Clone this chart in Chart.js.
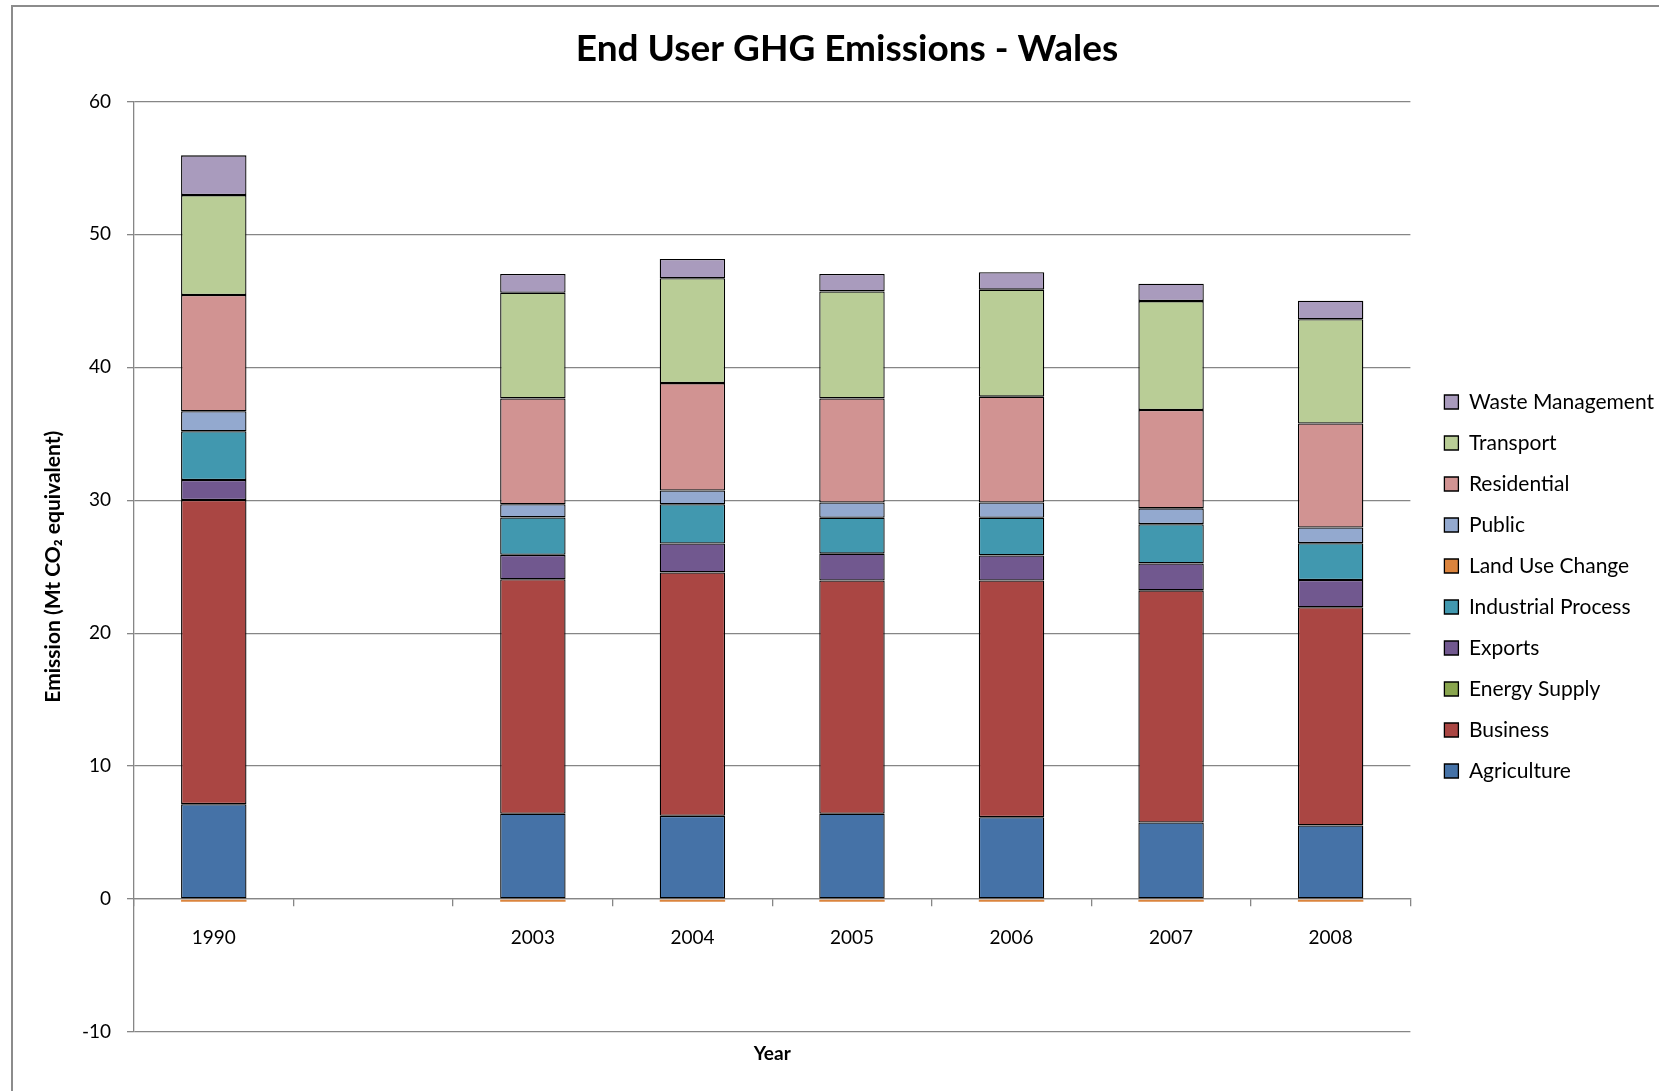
<!DOCTYPE html>
<html>
<head>
<meta charset="utf-8">
<script src="https://cdn.jsdelivr.net/npm/chart.js@4"></script>
<style>
  html, body { margin: 0; padding: 0; background: #fff; }
  #wrap { position: relative; width: 1659px; height: 1091px; overflow: hidden; }
  #frame { position: absolute; left: 11px; top: 5px; width: 1700px; height: 1200px; border: 2px solid #8c8c8c; box-sizing: border-box; }
  canvas { position: absolute; left: 0; top: 0; }
</style>
</head>
<body>
<div id="wrap">
  <div id="frame"></div>
  <canvas id="chart" width="1659" height="1091"></canvas>
</div>
<script>
const years = ["1990", "", "2003", "2004", "2005", "2006", "2007", "2008"];

const agriculture = [7.14, null, 6.42, 6.26, 6.42, 6.16, 5.76, 5.54];
const business = [22.88, null, 17.64, 18.31, 17.54, 17.80, 17.46, 16.41];
const energySupply = [0, null, 0, 0, 0, 0, 0, 0];
const exportsData = [1.50, null, 1.83, 2.18, 2.02, 1.89, 2.03, 2.05];
const industrialProcess = [3.67, null, 2.82, 2.95, 2.70, 2.83, 2.95, 2.77];
const landUseChange = [-0.2, null, -0.2, -0.2, -0.2, -0.2, -0.2, -0.2];
const publicSector = [1.50, null, 0.99, 1.03, 1.15, 1.15, 1.19, 1.18];
const residential = [8.75, null, 7.96, 8.08, 7.83, 7.96, 7.40, 7.82];
const transport = [7.51, null, 7.95, 7.89, 8.05, 8.05, 8.19, 7.84];
const wasteManagement = [2.99, null, 1.41, 1.45, 1.31, 1.31, 1.31, 1.40];

const font = "Lato, 'Open Sans', sans-serif";

const series = [
  ["Agriculture", agriculture, "#4572a7"],
  ["Business", business, "#aa4643"],
  ["Energy Supply", energySupply, "#89a54e"],
  ["Exports", exportsData, "#71588f"],
  ["Industrial Process", industrialProcess, "#4198af"],
  ["Land Use Change", landUseChange, "#db843d"],
  ["Public", publicSector, "#93a9cf"],
  ["Residential", residential, "#d19392"],
  ["Transport", transport, "#b9cd96"],
  ["Waste Management", wasteManagement, "#a99bbd"]
];

new Chart(document.getElementById("chart"), {
  type: "bar",
  data: {
    labels: years,
    datasets: series.map(([label, data, color]) => ({
      label,
      data,
      backgroundColor: color,
      borderColor: "#000",
      // the thin land-use sliver only shows its fill
      borderWidth: label === "Land Use Change" ? 0 : 1.3,
      borderSkipped: false,
      barPercentage: 0.41,
      categoryPercentage: 1
    }))
  },
  options: {
    responsive: false,
    animation: false,
    layout: { padding: { left: 30, top: 8, right: -5, bottom: 26 } },
    plugins: {
      title: {
        display: true,
        text: "End User GHG Emissions - Wales",
        color: "#000",
        font: { family: font, size: 37, weight: "bold" },
        padding: { top: 19, bottom: 30 }
      },
      legend: {
        position: "right",
        reverse: true,
        title: { display: true, text: " ", font: { size: 10 }, padding: { top: 0, bottom: 88 } },
        labels: {
          color: "#000",
          font: { family: font, size: 21 },
          boxWidth: 14,
          boxHeight: 14,
          padding: 20,
          generateLabels: (chart) =>
            Chart.defaults.plugins.legend.labels.generateLabels(chart).map((item) => ({
              ...item,
              lineWidth: 1.3,
              strokeStyle: "#000"
            }))
        }
      },
      tooltip: { enabled: false }
    },
    scales: {
      x: {
        stacked: true,
        position: { y: 0 },
        grid: { drawOnChartArea: false, color: "#868686", tickLength: 7, lineWidth: 1.3 },
        border: { color: "#868686", width: 1.3 },
        ticks: { color: "#000", font: { family: font, size: 19 }, padding: 20 }
      },
      x2: {
        type: "category",
        position: "bottom",
        grid: { display: false, drawTicks: false },
        border: { display: false },
        ticks: { display: false },
        title: {
          display: true,
          text: "Year",
          color: "#000",
          font: { family: font, size: 19, weight: "bold" },
          padding: { top: 0, bottom: 0 }
        },
        afterFit: (scale) => { scale.height = 33; }
      },
      y: {
        stacked: true,
        min: -10,
        max: 60,
        ticks: { stepSize: 10, color: "#000", font: { family: font, size: 19 }, padding: 16 },
        grid: { color: "#868686", lineWidth: 1.3, tickLength: 7 },
        border: { color: "#868686", width: 1.3 },
        title: {
          display: true,
          text: "Emission (Mt CO\u2082 equivalent)",
          color: "#000",
          font: { family: font, size: 21, weight: "bold" },
          padding: { top: 11, bottom: 0 }
        },
        afterFit: (scale) => { scale.width = 104; }
      },
      yr: {
        type: "linear",
        position: "right",
        grid: { display: false, drawTicks: false },
        border: { display: false },
        ticks: { display: false },
        afterFit: (scale) => { scale.width = 14; }
      }
    }
  }
});
</script>
</body>
</html>
